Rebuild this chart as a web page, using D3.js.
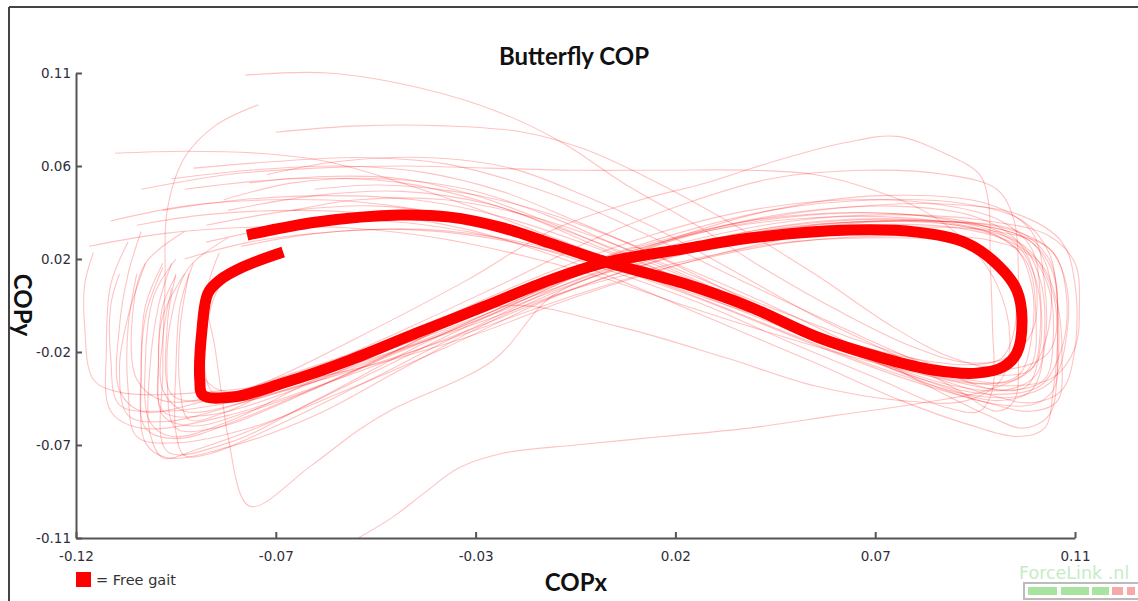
<!DOCTYPE html>
<html><head><meta charset="utf-8">
<script src="https://cdn.jsdelivr.net/npm/d3@7"></script>
<style>
html,body{margin:0;padding:0;background:#fff;}
svg{display:block;}
</style></head>
<body>
<svg id="chart" width="1138" height="601"></svg>
<script>
// ---- DATA ----
const xTickValues = [-0.12, -0.074, -0.028, 0.018, 0.064, 0.11];
const xTickLabels = ["-0.12", "-0.07", "-0.03", "0.02", "0.07", "0.11"];
const yTickValues = [-0.11, -0.066, -0.022, 0.022, 0.066, 0.11];
const yTickLabels = ["-0.11", "-0.07", "-0.02", "0.02", "0.06", "0.11"];

// mean "Free gait" butterfly (COPx, COPy)
const freeGait = [
  [-0.0806,0.0333],[-0.0645,0.0395],[-0.0454,0.0428],[-0.0339,0.0418],[-0.0224,0.0371],
  [-0.0109,0.0295],[0.0022,0.0205],[0.0197,0.0106],[0.0352,-0.0007],[0.0506,-0.0149],
  [0.0658,-0.0249],[0.0773,-0.0305],[0.0874,-0.0320],[0.0934,-0.0291],[0.0966,-0.0225],
  [0.0978,-0.0069],[0.0966,0.0073],[0.0927,0.0182],[0.0851,0.0295],[0.0736,0.0347],
  [0.0582,0.0357],[0.0352,0.0319],[0.0197,0.0267],[0.0022,0.0205],[-0.0109,0.0120],
  [-0.0263,-0.0007],[-0.0415,-0.0130],[-0.0569,-0.0258],[-0.0723,-0.0367],[-0.0839,-0.0433],
  [-0.0908,-0.0424],[-0.0915,-0.0353],[-0.0910,-0.0116],[-0.0896,0.0059],[-0.0869,0.0120],
  [-0.0816,0.0182],[-0.0723,0.0253]
];

// individual steps
const step01 = [[-0.081,0.109],[-0.062,0.110],[-0.041,0.103],[-0.022,0.091],[-0.008,0.077],[0.006,0.058],[0.022,0.039],[0.038,0.018],[0.056,-0.003],[0.072,-0.019],[0.085,-0.027],[0.094,-0.025],[0.100,-0.013],[0.101,0.010],[0.097,0.030],[0.087,0.042],[0.068,0.047],[0.045,0.044],[0.022,0.034],[0.000,0.018],[-0.022,-0.002],[-0.045,-0.021],[-0.068,-0.038],[-0.083,-0.045],[-0.089,-0.040],[-0.090,-0.012],[-0.086,0.012],[-0.077,0.024]];
const step02 = [[-0.095,0.055],[-0.070,0.060],[-0.045,0.058],[-0.020,0.045],[0.000,0.028],[0.025,0.008],[0.050,-0.015],[0.075,-0.035],[0.092,-0.045],[0.100,-0.040],[0.103,-0.020],[0.103,0.010],[0.100,0.035],[0.090,0.048],[0.065,0.052],[0.040,0.045],[0.015,0.030],[-0.010,0.010],[-0.040,-0.018],[-0.065,-0.045],[-0.085,-0.065],[-0.099,-0.069],[-0.100,-0.030],[-0.0995,0.010],[-0.099,0.045],[-0.095,0.070],[-0.088,0.085],[-0.078,0.095]];
const step03 = [[-0.074,0.082],[-0.055,0.085],[-0.035,0.085],[-0.017,0.082],[-0.003,0.074],[0.012,0.060],[0.030,0.040],[0.050,0.015],[0.068,-0.010],[0.082,-0.025],[0.095,-0.030],[0.104,-0.022],[0.106,0.000],[0.104,0.022],[0.097,0.035],[0.080,0.040],[0.055,0.040],[0.030,0.033],[0.005,0.018],[-0.025,-0.005],[-0.055,-0.030],[-0.080,-0.052],[-0.097,-0.063],[-0.104,-0.058],[-0.105,-0.030],[-0.104,0.000],[-0.100,0.020]];
const step04 = [[-0.111,0.072],[-0.095,0.073],[-0.078,0.072],[-0.062,0.068],[-0.045,0.058],[-0.028,0.046],[-0.010,0.032],[0.008,0.018],[0.030,0.000],[0.055,-0.020],[0.075,-0.035],[0.090,-0.042],[0.102,-0.038],[0.107,-0.020],[0.108,0.005],[0.105,0.025],[0.095,0.036],[0.075,0.040],[0.050,0.037],[0.025,0.027],[0.000,0.012],[-0.030,-0.012],[-0.060,-0.035],[-0.085,-0.052],[-0.105,-0.058],[-0.112,-0.050],[-0.113,-0.020],[-0.112,0.010],[-0.108,0.030]];
const step05 = [[-0.090,0.030],[-0.070,0.038],[-0.050,0.040],[-0.030,0.035],[-0.010,0.025],[0.005,0.015],[0.025,0.000],[0.045,-0.018],[0.065,-0.035],[0.080,-0.048],[0.088,-0.050],[0.091,-0.040],[0.091,-0.010],[0.0905,0.020],[0.090,0.050],[0.088,0.062],[0.080,0.072],[0.069,0.080],[0.057,0.077],[0.042,0.069],[0.025,0.058],[0.010,0.050],[-0.010,0.036],[-0.030,0.012],[-0.055,-0.015],[-0.075,-0.035],[-0.090,-0.045],[-0.098,-0.042],[-0.099,-0.010],[-0.097,0.015]];
const step06 = [[-0.055,-0.110],[-0.047,-0.100],[-0.040,-0.089],[-0.032,-0.077],[-0.022,-0.070],[-0.005,-0.066],[0.015,-0.062],[0.035,-0.058],[0.055,-0.052],[0.075,-0.046],[0.090,-0.040],[0.100,-0.030],[0.104,-0.010],[0.104,0.015],[0.100,0.030],[0.088,0.038],[0.065,0.040],[0.040,0.036],[0.015,0.025],[-0.010,0.008],[-0.040,-0.015],[-0.065,-0.032],[-0.085,-0.042],[-0.100,-0.045],[-0.106,-0.035],[-0.107,-0.005],[-0.104,0.020],[-0.095,0.035]];
const step07 = [[-0.085,0.045],[-0.065,0.052],[-0.045,0.054],[-0.025,0.048],[-0.008,0.036],[0.010,0.022],[0.030,0.005],[0.052,-0.015],[0.072,-0.030],[0.088,-0.037],[0.097,-0.033],[0.100,-0.015],[0.100,0.010],[0.096,0.028],[0.085,0.036],[0.060,0.038],[0.035,0.032],[0.010,0.020],[-0.010,0.005],[-0.024,-0.026],[-0.047,-0.049],[-0.055,-0.059],[-0.066,-0.076],[-0.080,-0.095],[-0.085,-0.062],[-0.086,-0.049],[-0.088,-0.020],[-0.090,0.005],[-0.087,0.025]];
const step08 = [[-0.112,0.040],[-0.095,0.047],[-0.075,0.050],[-0.055,0.049],[-0.035,0.043],[-0.015,0.032],[0.005,0.018],[0.028,0.000],[0.050,-0.018],[0.070,-0.033],[0.085,-0.042],[0.097,-0.043],[0.105,-0.035],[0.108,-0.015],[0.108,0.010],[0.104,0.027],[0.092,0.035],[0.070,0.037],[0.045,0.032],[0.020,0.020],[-0.005,0.004],[-0.030,-0.015],[-0.060,-0.032],[-0.090,-0.041],[-0.110,-0.041],[-0.116,-0.035],[-0.118,-0.010],[-0.118,0.010],[-0.116,0.025]];
const step09 = [[-0.098,0.060],[-0.080,0.064],[-0.060,0.066],[-0.040,0.063],[-0.022,0.054],[-0.005,0.040],[0.012,0.025],[0.032,0.005],[0.055,-0.018],[0.075,-0.036],[0.090,-0.046],[0.100,-0.047],[0.105,-0.040],[0.106,-0.020],[0.105,0.005],[0.100,0.025],[0.090,0.037],[0.072,0.043],[0.050,0.043],[0.025,0.035],[0.000,0.018],[-0.025,-0.005],[-0.050,-0.030],[-0.075,-0.055],[-0.092,-0.068],[-0.100,-0.072],[-0.103,-0.060],[-0.103,-0.030],[-0.101,0.000],[-0.098,0.020]];
const step10 = [[-0.070,0.045],[-0.055,0.050],[-0.035,0.050],[-0.015,0.042],[0.000,0.032],[0.015,0.020],[0.035,0.003],[0.058,-0.015],[0.078,-0.028],[0.092,-0.033],[0.100,-0.030],[0.102,-0.012],[0.101,0.012],[0.096,0.030],[0.082,0.040],[0.060,0.044],[0.035,0.040],[0.010,0.028],[-0.015,0.010],[-0.040,-0.012],[-0.065,-0.035],[-0.085,-0.055],[-0.098,-0.062],[-0.103,-0.055],[-0.104,-0.025],[-0.102,0.005],[-0.097,0.022]];
const step11 = [[-0.095,0.022],[-0.080,0.030],[-0.060,0.035],[-0.040,0.036],[-0.020,0.031],[0.000,0.021],[0.020,0.008],[0.045,-0.010],[0.068,-0.025],[0.085,-0.035],[0.095,-0.036],[0.100,-0.028],[0.101,-0.005],[0.099,0.020],[0.092,0.033],[0.078,0.040],[0.055,0.042],[0.030,0.037],[0.005,0.024],[-0.020,0.005],[-0.045,-0.018],[-0.070,-0.040],[-0.090,-0.052],[-0.100,-0.050],[-0.101,-0.025],[-0.100,0.000],[-0.097,0.014]];
const step12 = [[-0.086,0.050],[-0.070,0.058],[-0.050,0.060],[-0.030,0.055],[-0.012,0.043],[0.005,0.028],[0.025,0.010],[0.050,-0.012],[0.072,-0.030],[0.090,-0.042],[0.100,-0.046],[0.107,-0.040],[0.110,-0.020],[0.110,0.010],[0.107,0.030],[0.097,0.043],[0.080,0.048],[0.055,0.046],[0.030,0.038],[0.005,0.024],[-0.020,0.005],[-0.045,-0.020],[-0.070,-0.044],[-0.088,-0.058],[-0.097,-0.058],[-0.099,-0.035],[-0.098,-0.005],[-0.094,0.018],[-0.085,0.032]];
const step13 = [[-0.076,0.062],[-0.060,0.068],[-0.040,0.070],[-0.020,0.065],[-0.003,0.052],[0.012,0.038],[0.030,0.018],[0.050,-0.005],[0.070,-0.025],[0.083,-0.040],[0.092,-0.050],[0.096,-0.045],[0.097,-0.020],[0.097,0.010],[0.096,0.040],[0.092,0.055],[0.080,0.062],[0.062,0.064],[0.040,0.060],[0.020,0.048],[0.000,0.032],[-0.020,0.012],[-0.045,-0.012],[-0.070,-0.035],[-0.085,-0.050],[-0.094,-0.054],[-0.096,-0.040],[-0.096,-0.010],[-0.094,0.015]];
const step14 = [[-0.105,0.055],[-0.085,0.062],[-0.065,0.065],[-0.045,0.066],[-0.025,0.065],[-0.005,0.064],[0.015,0.064],[0.035,0.064],[0.050,0.062],[0.063,0.055],[0.075,0.045],[0.085,0.030],[0.092,0.010],[0.095,-0.015],[0.093,-0.035],[0.085,-0.045],[0.070,-0.045],[0.050,-0.038],[0.030,-0.025],[0.005,-0.010],[-0.020,0.000],[-0.045,-0.015],[-0.070,-0.032],[-0.090,-0.045],[-0.105,-0.050],[-0.110,-0.040],[-0.110,-0.010],[-0.108,0.015],[-0.105,0.035]];
const step15 = [[-0.117,0.028],[-0.100,0.034],[-0.080,0.037],[-0.060,0.037],[-0.040,0.033],[-0.020,0.025],[0.000,0.014],[0.020,0.000],[0.040,-0.013],[0.060,-0.025],[0.080,-0.035],[0.095,-0.040],[0.103,-0.035],[0.105,-0.015],[0.104,0.008],[0.100,0.023],[0.090,0.031],[0.070,0.033],[0.045,0.030],[0.020,0.020],[-0.005,0.005],[-0.030,-0.013],[-0.055,-0.030],[-0.080,-0.044],[-0.100,-0.050],[-0.110,-0.047],[-0.112,-0.025],[-0.112,0.000],[-0.110,0.015]];
const step16 = [[-0.090,0.038],[-0.070,0.045],[-0.050,0.047],[-0.030,0.041],[-0.012,0.030],[0.005,0.017],[0.025,0.002],[0.048,-0.017],[0.070,-0.034],[0.088,-0.045],[0.100,-0.050],[0.106,-0.045],[0.107,-0.025],[0.106,0.000],[0.102,0.020],[0.092,0.033],[0.075,0.040],[0.052,0.040],[0.028,0.032],[0.005,0.018],[-0.020,-0.003],[-0.045,-0.030],[-0.065,-0.052],[-0.085,-0.067],[-0.099,-0.072],[-0.104,-0.065],[-0.105,-0.035],[-0.104,-0.005],[-0.100,0.018]];
const step17 = [[-0.080,0.058],[-0.063,0.061],[-0.045,0.060],[-0.028,0.052],[-0.012,0.040],[0.004,0.026],[0.022,0.010],[0.045,-0.010],[0.065,-0.027],[0.082,-0.038],[0.094,-0.040],[0.101,-0.033],[0.103,-0.012],[0.102,0.012],[0.098,0.028],[0.088,0.036],[0.068,0.040],[0.045,0.037],[0.020,0.028],[-0.005,0.012],[-0.030,-0.012],[-0.055,-0.038],[-0.075,-0.058],[-0.089,-0.070],[-0.095,-0.071],[-0.097,-0.060],[-0.097,-0.030],[-0.096,0.000],[-0.093,0.020]];
const step18 = [[-0.065,0.055],[-0.050,0.057],[-0.030,0.053],[-0.012,0.044],[0.004,0.032],[0.020,0.018],[0.040,0.000],[0.060,-0.020],[0.078,-0.040],[0.090,-0.052],[0.098,-0.058],[0.104,-0.052],[0.106,-0.030],[0.106,0.000],[0.104,0.025],[0.098,0.040],[0.085,0.048],[0.065,0.050],[0.040,0.045],[0.015,0.032],[-0.010,0.014],[-0.035,-0.010],[-0.060,-0.035],[-0.080,-0.050],[-0.093,-0.057],[-0.100,-0.052],[-0.101,-0.030],[-0.100,-0.005],[-0.095,0.015]];
const step19 = [[-0.082,0.028],[-0.065,0.034],[-0.045,0.036],[-0.025,0.032],[-0.007,0.024],[0.010,0.014],[0.030,0.000],[0.050,-0.013],[0.070,-0.024],[0.085,-0.028],[0.093,-0.025],[0.096,-0.012],[0.096,0.008],[0.092,0.022],[0.082,0.030],[0.062,0.032],[0.040,0.029],[0.018,0.020],[-0.005,0.008],[-0.030,-0.010],[-0.055,-0.027],[-0.075,-0.038],[-0.087,-0.040],[-0.091,-0.032],[-0.091,-0.012],[-0.089,0.005],[-0.084,0.017]];
const step20 = [[-0.100,0.045],[-0.082,0.050],[-0.062,0.052],[-0.042,0.050],[-0.022,0.042],[-0.004,0.030],[0.015,0.015],[0.035,-0.002],[0.058,-0.020],[0.078,-0.033],[0.095,-0.038],[0.105,-0.034],[0.110,-0.020],[0.111,0.000],[0.110,0.020],[0.104,0.033],[0.090,0.040],[0.068,0.043],[0.045,0.040],[0.020,0.030],[-0.005,0.014],[-0.030,-0.008],[-0.055,-0.028],[-0.080,-0.045],[-0.100,-0.055],[-0.108,-0.052],[-0.110,-0.030],[-0.108,-0.005],[-0.104,0.020]];
const step21 = [[-0.093,0.065],[-0.075,0.068],[-0.055,0.070],[-0.035,0.067],[-0.018,0.058],[-0.002,0.046],[0.015,0.030],[0.035,0.010],[0.058,-0.012],[0.078,-0.030],[0.092,-0.040],[0.099,-0.038],[0.102,-0.020],[0.102,0.005],[0.100,0.027],[0.093,0.040],[0.078,0.048],[0.058,0.050],[0.035,0.045],[0.012,0.033],[-0.012,0.015],[-0.038,-0.008],[-0.062,-0.030],[-0.082,-0.046],[-0.095,-0.050],[-0.100,-0.040],[-0.100,-0.015],[-0.098,0.008]];
const step22 = [[-0.106,0.038],[-0.090,0.043],[-0.070,0.045],[-0.050,0.043],[-0.030,0.036],[-0.012,0.025],[0.005,0.012],[0.027,-0.007],[0.050,-0.027],[0.070,-0.045],[0.085,-0.056],[0.097,-0.062],[0.103,-0.058],[0.105,-0.040],[0.106,-0.012],[0.105,0.015],[0.100,0.030],[0.088,0.038],[0.065,0.040],[0.040,0.035],[0.015,0.022],[-0.010,0.004],[-0.035,-0.020],[-0.060,-0.042],[-0.080,-0.058],[-0.097,-0.065],[-0.106,-0.062],[-0.108,-0.040],[-0.108,-0.010],[-0.106,0.015]];
const steps = [step01,step02,step03,step04,step05,step06,step07,step08,step09,step10,step11,step12,step13,step14,step15,step16,step17,step18,step19,step20,step21,step22];

const legendLabel = "= Free gait";

// ---- DRAW ----
const svg = d3.select("#chart");
const x = d3.scaleLinear().domain([-0.12, 0.11]).range([76, 1075]);
const y = d3.scaleLinear().domain([-0.11, 0.11]).range([538, 73]);

// frame
svg.append("line").attr("x1",9).attr("y1",7).attr("x2",1138).attr("y2",7).attr("stroke","#444").attr("stroke-width",2);
svg.append("line").attr("x1",9).attr("y1",7).attr("x2",9).attr("y2",601).attr("stroke","#444").attr("stroke-width",2);

const line = d3.line().x(d=>x(d[0])).y(d=>y(d[1])).curve(d3.curveCatmullRom.alpha(0.5));

svg.append("g").selectAll("path").data(steps).join("path")
  .attr("d", line).attr("fill","none")
  .attr("stroke","#ff0000").attr("stroke-opacity",0.24).attr("stroke-width",1.1);

svg.append("path").datum(freeGait).attr("d", line).attr("fill","none")
  .attr("stroke","#ff0000").attr("stroke-width",11).attr("stroke-linejoin","round").attr("stroke-linecap","butt");

// axes
const fontTick = "'DejaVu Sans', Verdana, sans-serif";
const xAxis = d3.axisBottom(x).tickValues(xTickValues).tickFormat((d,i)=>xTickLabels[i]).tickSizeInner(-6).tickSizeOuter(0).tickPadding(13);
const yAxis = d3.axisLeft(y).tickValues(yTickValues).tickFormat((d,i)=>yTickLabels[i]).tickSizeInner(-6).tickSizeOuter(0).tickPadding(5);

const gx = svg.append("g").attr("transform","translate(0,538)").call(xAxis);
const gy = svg.append("g").attr("transform","translate(76,0)").call(yAxis);
[gx,gy].forEach(g=>{
  g.select(".domain").attr("stroke","#555").attr("stroke-width",2);
  g.selectAll(".tick line").attr("stroke","#555").attr("stroke-width",2);
  g.selectAll(".tick text").attr("fill","#2e2e3a").style("font-family",fontTick).style("font-size","13.5px");
});

// titles
const fontTitle = "Lato, 'Open Sans', sans-serif";
svg.append("text").attr("x",574).attr("y",65).attr("text-anchor","middle")
  .style("font-family",fontTitle).style("font-weight","bold").style("font-size","24px").attr("fill","#111")
  .text("Butterfly COP");
svg.append("text").attr("x",576).attr("y",591).attr("text-anchor","middle")
  .style("font-family",fontTitle).style("font-weight","bold").style("font-size","24px").attr("fill","#111")
  .text("COPx");
svg.append("text").attr("transform","translate(14,305) rotate(90)").attr("text-anchor","middle")
  .style("font-family",fontTitle).style("font-weight","bold").style("font-size","24px").attr("fill","#111")
  .text("COPy");

// legend
svg.append("rect").attr("x",76).attr("y",572).attr("width",15).attr("height",15).attr("fill","#ff0000");
svg.append("text").attr("x",96).attr("y",585).style("font-family",fontTick).style("font-size","14.5px").attr("fill","#333")
  .text(legendLabel);

// watermark
svg.append("text").attr("x",1019).attr("y",579).style("font-family","'DejaVu Sans', sans-serif").style("font-size","17.5px")
  .attr("fill","#c6ecc6").text("ForceLink .nl");
svg.append("rect").attr("x",1024).attr("y",583).attr("width",116).attr("height",16).attr("fill","none").attr("stroke","#bbb").attr("stroke-width",2);
const segs = [[1028,29,"#a8e4a0"],[1061,28,"#a8e4a0"],[1092,17,"#a8e4a0"],[1112,11,"#f7a8a8"],[1127,8,"#f7a8a8"]];
svg.append("g").selectAll("rect").data(segs).join("rect")
  .attr("x",d=>d[0]).attr("y",587).attr("width",d=>d[1]).attr("height",8).attr("fill",d=>d[2]);
</script>
</body></html>
